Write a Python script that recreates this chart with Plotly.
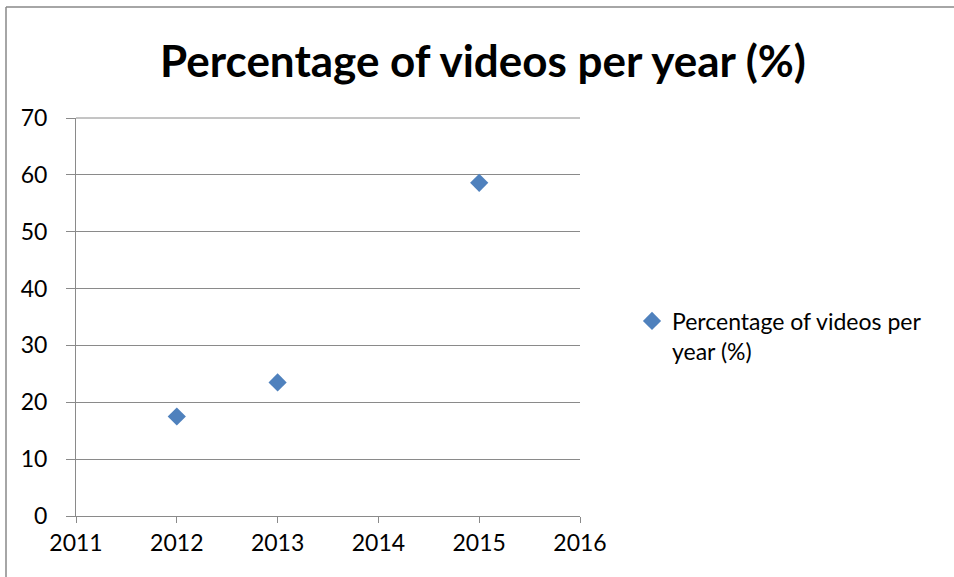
import plotly.graph_objects as go

years = [2012, 2013, 2015]
percent = [17.5, 23.5, 58.6]
series_name = "Percentage of videos per<br>year (%)"
title_text = "Percentage of videos per year (%)"
x_ticks = [2011, 2012, 2013, 2014, 2015, 2016]
y_ticks = [0, 10, 20, 30, 40, 50, 60, 70]

W, H = 954, 577
OFF = 0  # body margin removed via post_script
L, R, T, B = 76 - OFF, 580 - OFF, 118 - OFF, 516 - OFF

def px_x(p):
    p = p - OFF
    return (p - L) / (R - L)

def px_y(p):
    p = p - OFF
    return (B - p) / (B - T)

fig = go.Figure()
fig.add_trace(go.Scatter(
    x=years, y=percent, mode="markers", name=series_name,
    marker=dict(symbol="diamond", size=14, color="#4F81BD"),
    cliponaxis=False,
))

grid = "#8a8a8a"
tick_font = dict(size=23, family="Lato, sans-serif", color="black")
fig.update_layout(
    width=W, height=H,
    margin=dict(l=L, r=W - R, t=T, b=H - B, pad=0),
    paper_bgcolor="white", plot_bgcolor="white",
    font=dict(family="Lato, 'Open Sans', sans-serif", color="black"),
    title=dict(text="<b>" + title_text + "</b>", xref="container",
               x=(483 - OFF) / W, xanchor="center",
               yref="container", y=1 - (62 - OFF) / H, yanchor="middle",
               font=dict(size=44, family="Lato, sans-serif", color="black")),
    showlegend=True,
    legend=dict(x=px_x(632), xanchor="left", y=px_y(336), yanchor="middle",
                valign="top",
                font=dict(size=23, color="black"), bgcolor="rgba(0,0,0,0)",
                itemwidth=30, tracegroupgap=0),
    xaxis=dict(range=[2011, 2016], tickvals=x_ticks, ticktext=[str(v) for v in x_ticks],
               showgrid=False, zeroline=False, showline=True, linecolor=grid, linewidth=1,
               ticks="outside", ticklen=6, tickcolor=grid, tickwidth=1,
               tickfont=tick_font, fixedrange=True),
    yaxis=dict(range=[0, 70], tickvals=y_ticks, ticktext=[str(v) for v in y_ticks],
               showgrid=True, gridcolor=grid, gridwidth=1, zeroline=False,
               showline=True, linecolor=grid, linewidth=1,
               ticks="outside", ticklen=9, tickcolor=grid, tickwidth=1,
               ticklabelstandoff=14,
               tickfont=tick_font, fixedrange=True),
    shapes=[
        dict(type="line", xref="paper", yref="paper",
             x0=px_x(6), x1=px_x(6), y0=px_y(7), y1=px_y(700),
             line=dict(color="#888888", width=1.5)),
        dict(type="line", xref="paper", yref="paper",
             x0=px_x(6), x1=px_x(1000), y0=px_y(7), y1=px_y(7),
             line=dict(color="#888888", width=1.5)),
        dict(type="line", xref="paper", yref="paper",
             x0=0, x1=1, y0=1, y1=1,
             line=dict(color=grid, width=1)),
    ],
)

fig.write_html("out.html", config={"displayModeBar": False},
               post_script="document.body.style.margin='0';")
